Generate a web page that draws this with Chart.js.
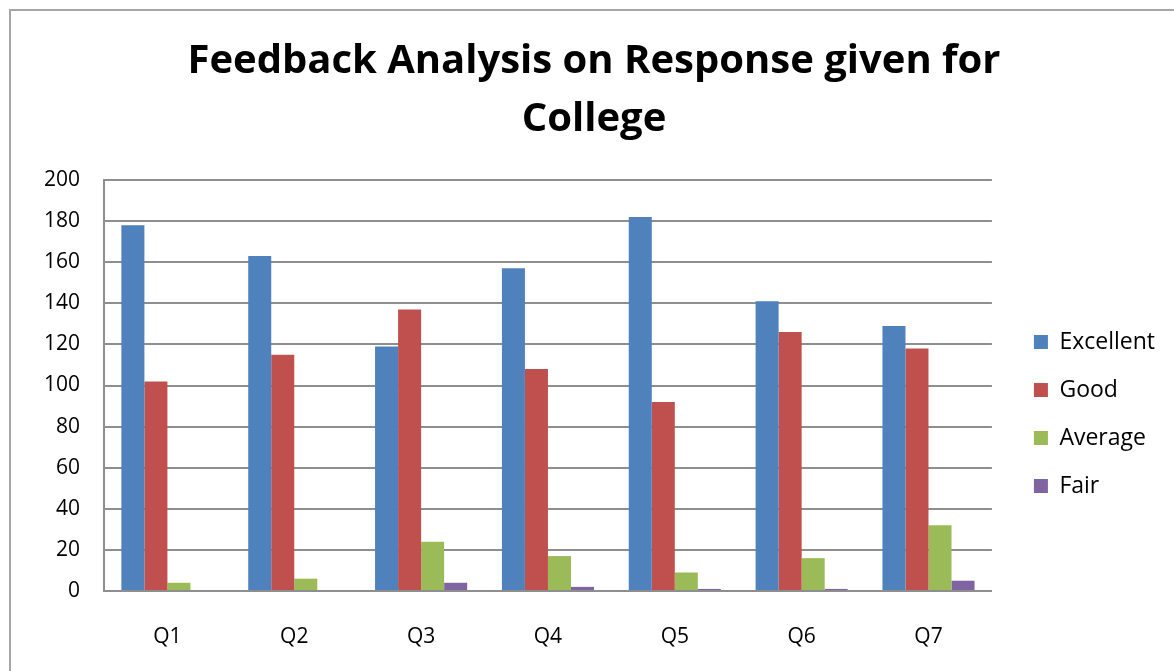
<!DOCTYPE html>
<html>
<head>
<meta charset="utf-8">
<script src="https://cdn.jsdelivr.net/npm/chart.js@4.4.1/dist/chart.umd.min.js"></script>
<style>
  html, body { margin: 0; padding: 0; background: #fff; overflow: hidden; }
  #frame { position: absolute; left: 9px; top: 9px; width: 1200px; height: 700px; border: 2px solid #a6a6a6; }
  #wrap { position: absolute; left: 0; top: 0; width: 1174px; height: 671px; }
</style>
</head>
<body>
<div id="frame"></div>
<div id="wrap"><canvas id="chart"></canvas></div>
<script>
var categories = ["Q1", "Q2", "Q3", "Q4", "Q5", "Q6", "Q7"];
var excellent = [178, 163, 119, 157, 182, 141, 129];
var good = [102, 115, 137, 108, 92, 126, 118];
var average = [4, 6, 24, 17, 9, 16, 32];
var fair = [0, 0, 4, 2, 1, 1, 5];
var yTicks = [0, 20, 40, 60, 80, 100, 120, 140, 160, 180, 200];

var blue = "#4f81bd";
var red = "#c0504d";
var green = "#9bbb59";
var purple = "#8064a2";
var gridGray = "#8e8e8e";
var font = "'Open Sans', Lato, sans-serif";

function series(label, data, color){
	return {
		label: label,
		data: data,
		backgroundColor: color,
		borderWidth: 0,
		barPercentage: 1,
		categoryPercentage: 0.726
	};
}

var ctx = document.getElementById("chart");
var chart = new Chart(ctx, {
	type: "bar",
	data: {
		labels: categories,
		datasets: [
			series("Excellent", excellent, blue),
			series("Good", good, red),
			series("Average", average, green),
			series("Fair", fair, purple)
		]
	},
	options: {
		responsive: true,
		maintainAspectRatio: false,
		animation: false,
		layout: { padding: { left: 23, right: 9, top: 0, bottom: 0 } },
		plugins: {
			tooltip: { enabled: false },
			title: {
				display: true,
				text: ["Feedback Analysis on Response given for", "College"],
				color: "#000",
				font: { family: font, size: 40, weight: "bold", lineHeight: 58 / 40 },
				padding: { top: 33, bottom: 31 }
			},
			legend: {
				display: true,
				position: "right",
				align: "start",
				fullSize: false,
				title: { display: true, text: "", font: { size: 1, lineHeight: 1 }, padding: { top: 124.5, bottom: 0 } },
				labels: {
					boxWidth: 14,
					boxHeight: 14,
					padding: 25,
					color: "#000",
					font: { family: font, size: 23 }
				}
			}
		},
		scales: {
			x: {
				grid: { display: false, drawTicks: false },
				border: { display: true, color: gridGray, width: 2 },
				ticks: { color: "#000", padding: 33, font: { family: font, size: 21 } },
				afterFit: function(scale){ scale.height = 80; }
			},
			y: {
				min: 0,
				max: 200,
				afterBuildTicks: function(scale){
					scale.ticks = yTicks.map(function(v){ return { value: v }; });
				},
				grid: { color: gridGray, lineWidth: 2, drawTicks: false },
				border: { display: true, color: gridGray, width: 2 },
				ticks: { color: "#000", padding: 24, font: { family: font, size: 21 } },
				afterFit: function(scale){ scale.width = 81; }
			},
			y2: {
				position: "right",
				display: true,
				grid: { display: false, drawTicks: false },
				border: { display: false },
				ticks: { display: false },
				afterFit: function(scale){ scale.width = 17; }
			}
		}
	}
});
</script>
</body>
</html>
